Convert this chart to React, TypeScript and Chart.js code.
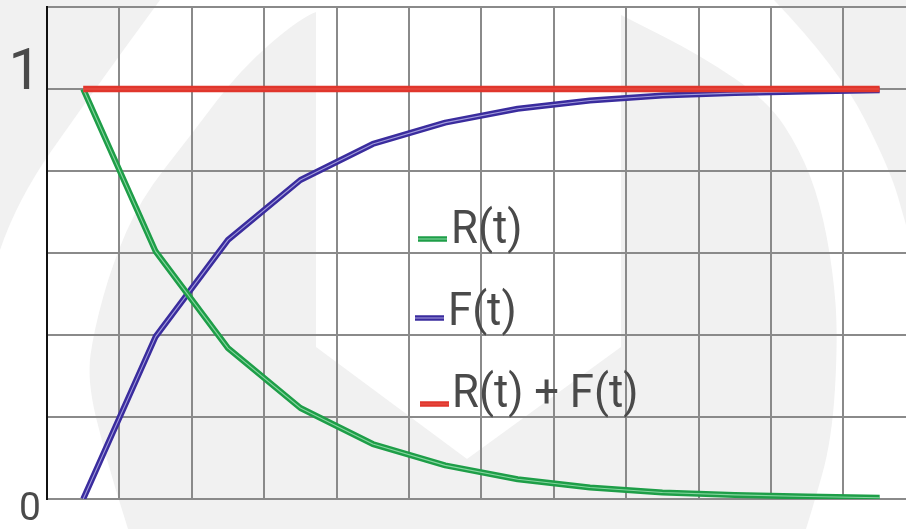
import React, { useEffect, useRef } from 'react';
import { Chart, registerables } from 'chart.js';

Chart.register(...registerables);

// ---- data ----
const times = [0, 1, 2, 3, 4, 5, 6, 7, 8, 9, 10, 11];
const reliability = [1, 0.604, 0.368, 0.222, 0.134, 0.082, 0.048, 0.028, 0.016, 0.01, 0.006, 0.003];
const unreliability = [0, 0.396, 0.632, 0.778, 0.866, 0.918, 0.952, 0.972, 0.984, 0.99, 0.994, 0.997];
const total = [1, 1, 1, 1, 1, 1, 1, 1, 1, 1, 1, 1];
const seriesNames = ['R(t)', 'F(t)', 'R(t) + F(t)'];
const xGridValues = [-0.5, 0.5, 1.5, 2.5, 3.5, 4.5, 5.5, 6.5, 7.5, 8.5, 9.5, 10.5];
const yTickLabels = ['0', '1'];

// ---- styles ----
const outerColors = ['#1e9e48', '#3a2c9e', '#e0362c'];
const innerColors = ['#86d6a0', '#a29cdc', '#ea5248'];
const textColor = '#4a4a4a';
const gridColor = '#8a8a8a';
const bgGrey = '#f1f1f1';

function pts(arr: number[]) {
  return times.map((t, i) => ({ x: t, y: arr[i] }));
}

const smoothPath = (ctx: CanvasRenderingContext2D, p: number[][], start: boolean) => {
  if (start) ctx.moveTo(p[0][0], p[0][1]);
  else ctx.lineTo(p[0][0], p[0][1]);
  for (let i = 1; i < p.length - 1; i++) {
    const mx = (p[i][0] + p[i + 1][0]) / 2;
    const my = (p[i][1] + p[i + 1][1]) / 2;
    ctx.quadraticCurveTo(p[i][0], p[i][1], mx, my);
  }
  const l = p[p.length - 1];
  ctx.lineTo(l[0], l[1]);
};

const backgroundPlugin = {
  id: 'watermarkBg',
  beforeDraw(chart: any) {
    const ctx = chart.ctx as CanvasRenderingContext2D;
    const w = chart.width;
    const h = chart.height;
    ctx.save();
    ctx.fillStyle = bgGrey;
    ctx.fillRect(0, 0, w, h);
    // outer white arch
    ctx.fillStyle = '#ffffff';
    ctx.beginPath();
    smoothPath(ctx, [[160, 0], [774, 0]], true);
    smoothPath(ctx, [[774, 0], [838, 67], [890, 169], [906, 225]], false);
    ctx.lineTo(906, h);
    ctx.lineTo(0, h);
    ctx.lineTo(0, 250);
    smoothPath(ctx, [[0, 250], [17, 200], [87, 100], [160, 0]], false);
    ctx.closePath();
    ctx.fill();
    // inner grey arch
    ctx.fillStyle = bgGrey;
    ctx.beginPath();
    smoothPath(ctx, [[316, 12], [300, 18], [240, 70], [191, 135], [140, 200], [112, 265], [94, 330], [87, 380], [105, 455], [128, 529]], true);
    ctx.lineTo(806, 529);
    smoothPath(ctx, [[806, 529], [812, 510], [832, 440], [838, 337], [833, 270], [820, 202], [800, 150], [768, 101], [700, 55], [627, 18], [621, 15]], false);
    ctx.closePath();
    ctx.fill();
    // white shield
    ctx.fillStyle = '#ffffff';
    ctx.beginPath();
    ctx.moveTo(316, 0);
    ctx.lineTo(621, 0);
    ctx.lineTo(621, 347);
    ctx.lineTo(467, 459);
    ctx.lineTo(316, 347);
    ctx.closePath();
    ctx.fill();
    ctx.restore();
  },
};

const legendPlugin = {
  id: 'inlineLegend',
  afterDraw(chart: any) {
    const ctx = chart.ctx as CanvasRenderingContext2D;
    const spots = [
      { sx: 418, sy: 239, tx: 451, ty: 243 },
      { sx: 415, sy: 318, tx: 448, ty: 325 },
      { sx: 420, sy: 404, tx: 452, ty: 407 },
    ];
    ctx.save();
    seriesNames.forEach((name, i) => {
      const s = spots[i];
      ctx.lineCap = 'butt';
      ctx.strokeStyle = outerColors[i];
      ctx.lineWidth = 5.5;
      ctx.beginPath();
      ctx.moveTo(s.sx, s.sy);
      ctx.lineTo(s.sx + 29, s.sy);
      ctx.stroke();
      ctx.strokeStyle = innerColors[i];
      ctx.lineWidth = 1.1;
      ctx.beginPath();
      ctx.moveTo(s.sx, s.sy);
      ctx.lineTo(s.sx + 29, s.sy);
      ctx.stroke();
      ctx.save();
      ctx.translate(s.tx, s.ty);
      ctx.scale(0.95, 1);
      ctx.fillStyle = textColor;
      ctx.font = '46px Roboto';
      ctx.textBaseline = 'alphabetic';
      ctx.textAlign = 'left';
      ctx.fillText(name, 0, 0);
      ctx.restore();
    });
    ctx.restore();
  },
};

export default function App() {
  const ref = useRef<HTMLCanvasElement>(null);
  useEffect(() => {
    document.body.style.margin = '0';
    const canvas = ref.current!;
    const series = [reliability, unreliability, total];
    const order = [1, 2, 0]; // lower = drawn on top
    const widths = [6, 6, 6.5];
    const datasets: any[] = [];
    series.forEach((arr, i) => {
      datasets.push({
        label: seriesNames[i],
        data: pts(arr),
        borderColor: outerColors[i],
        borderWidth: widths[i],
        pointRadius: 0,
        tension: 0,
        borderJoinStyle: 'round',
        order: order[i] * 2 + 1,
      });
      datasets.push({
        label: seriesNames[i] + ' highlight',
        data: pts(arr),
        borderColor: innerColors[i],
        borderWidth: 1.1,
        pointRadius: 0,
        tension: 0,
        borderJoinStyle: 'round',
        order: order[i] * 2,
      });
    });
    const chart = new Chart(canvas, {
      type: 'line',
      data: { datasets },
      plugins: [backgroundPlugin, legendPlugin],
      options: {
        animation: false,
        responsive: false,
        devicePixelRatio: 1,
        layout: { padding: { top: 7, right: 0, bottom: 30, left: 0 } },
        plugins: { legend: { display: false }, tooltip: { enabled: false } },
        scales: {
          x: {
            type: 'linear',
            min: -0.5,
            max: 11.364,
            ticks: { display: false },
            afterBuildTicks: (s: any) => {
              s.ticks = xGridValues.map((v) => ({ value: v }));
            },
            afterFit: (s: any) => {
              s.height = 0;
              s.paddingLeft = 0;
              s.paddingRight = 0;
            },
            grid: { color: gridColor, lineWidth: 2, drawTicks: false },
            border: { display: false },
          },
          y: {
            type: 'linear',
            min: 0,
            max: 1.2,
            afterFit: (s: any) => {
              s.width = 47;
              s.paddingTop = 0;
              s.paddingBottom = 0;
            },
            ticks: {
              stepSize: 0.2,
              padding: 6,
              color: textColor,
              font: (c: any) => {
                const v = c.tick ? c.tick.value : 0;
                return Math.abs(v - 1) < 1e-6
                  ? { family: 'Roboto', size: 58, lineHeight: '30px' }
                  : { family: 'Roboto', size: 39, lineHeight: '22px' };
              },
              callback: (v: any) => {
                const n = Number(v);
                if (Math.abs(n - 1) < 1e-6) return [yTickLabels[1], ''];
                if (Math.abs(n) < 1e-6) return ['', yTickLabels[0]];
                return '';
              },
            },
            grid: { color: gridColor, lineWidth: 2, drawTicks: false },
            border: { color: '#111111', width: 2 },
          },
        },
      } as any,
    });
    return () => chart.destroy();
  }, []);
  return <canvas ref={ref} width={906} height={529} style={{ display: 'block', width: 906, height: 529 }} />;
}
